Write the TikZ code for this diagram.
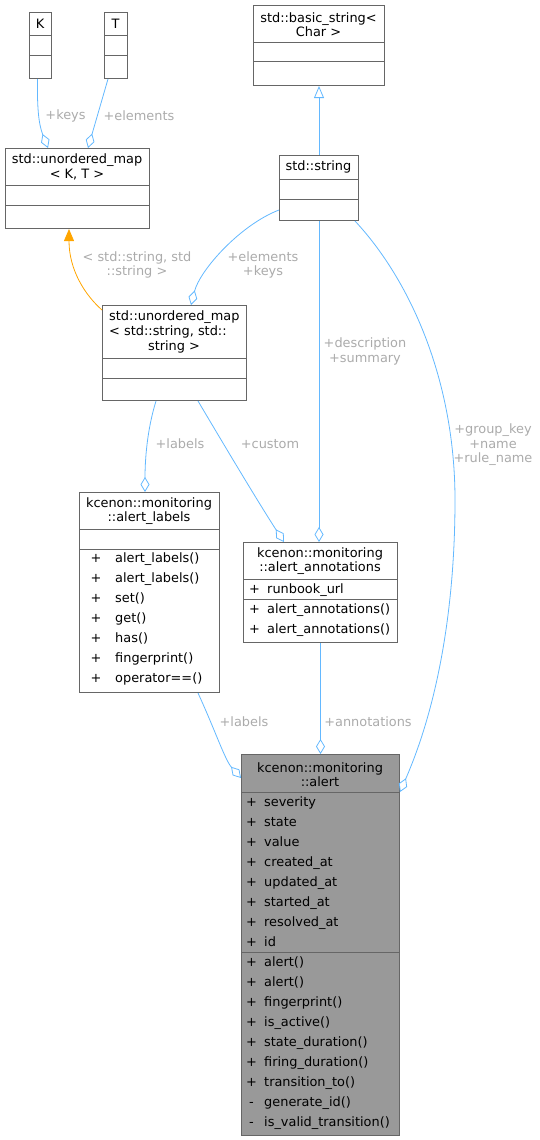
\documentclass[tikz,border=0pt]{standalone}
\usepackage{fontspec}
\setmainfont{DejaVu Sans}
\usetikzlibrary{arrows.meta}
\definecolor{edgeblue}{HTML}{63B8FF}
\definecolor{labelgray}{HTML}{ABABAB}
\definecolor{boxgray}{HTML}{666666}
\definecolor{alertfill}{HTML}{999999}
\definecolor{tmplorange}{HTML}{FFA500}
\begin{document}
\begin{tikzpicture}
    [
        x=1pt, y=-1pt,
        font=\fontsize{12.9}{14.5}\selectfont,
        classbox/.style={rectangle, draw=boxgray, fill=white, line width=1pt, anchor=north west, inner sep=0pt},
        divider/.style={draw=boxgray, line width=1pt},
        title/.style={align=center, inner sep=0pt},
        vis/.style={anchor=base, inner sep=0pt},
        member/.style={anchor=base west, inner sep=0pt},
        edgelabel/.style={text=labelgray, align=center, inner sep=0pt},
        uses/.style={draw=edgeblue, line width=0.8pt, -{Diamond[open, length=15pt, width=9pt]}},
        inherits/.style={draw=edgeblue, line width=0.8pt, -{Triangle[open, length=12pt, width=10pt]}},
        tmpl/.style={draw=tmplorange, line width=0.8pt, -{Triangle[length=12pt, width=10pt, fill=tmplorange]}},
    ]
    \useasboundingbox (0,0) rectangle (540,1140);

    % template parameters
    \node (k) at (29,12) [classbox, minimum width=22pt, minimum height=66pt] {};
    \node at (40,24) [title] {K};
    \draw [divider] (29,36) -- (51,36) (29,56) -- (51,56);
    \node (t) at (104,12) [classbox, minimum width=23pt, minimum height=66pt] {};
    \node at (115.5,24) [title] {T};
    \draw [divider] (104,36) -- (127,36) (104,56) -- (127,56);

    % std classes
    \node (bstr) at (253,5) [classbox, minimum width=131pt, minimum height=80pt] {};
    \node at (318.5,24.5) [title] {std::basic\_string<\\Char >};
    \draw [divider] (253,43) -- (384,43) (253,62) -- (384,62);
    \node (mapkt) at (5,148) [classbox, minimum width=144pt, minimum height=80pt] {};
    \node at (77,167) [title] {std::unordered\_map\\< K, T >};
    \draw [divider] (5,185) -- (149,185) (5,205) -- (149,205);
    \node (str) at (279,155) [classbox, minimum width=79pt, minimum height=65pt] {};
    \node at (318.5,167) [title] {std::string};
    \draw [divider] (279,179) -- (358,179) (279,199) -- (358,199);
    \node (mapss) at (102,305) [classbox, minimum width=144pt, minimum height=95pt] {};
    \node at (109,324.5) [title, align=left, anchor=west] {std::unordered\_map\\< std::string, std::};
    \node at (174,347) [title] {string >};
    \draw [divider] (102,358) -- (246,358) (102,378) -- (246,378);

    % kcenon::monitoring classes
    \node (lbl) at (79,492) [classbox, minimum width=140pt, minimum height=200pt] {};
    \node at (149,511) [title] {kcenon::monitoring\\::alert\_labels};
    \draw [divider] (79,529) -- (219,529) (79,549) -- (219,549);
    \foreach \m [count=\i] in {alert\_labels(), alert\_labels(), set(), get(), has(), fingerprint(), operator==()}
    {
        \node at (96,542.7+20*\i) [vis] {+};
        \node at (115,542.7+20*\i) [member] {\m};
    }
    \node (ann) at (243,542) [classbox, minimum width=154pt, minimum height=100pt] {};
    \node at (320,561) [title] {kcenon::monitoring\\::alert\_annotations};
    \draw [divider] (243,579) -- (397,579) (243,599) -- (397,599);
    \foreach \m/\yy in {runbook\_url/593.3, alert\_annotations()/613.3, alert\_annotations()/633.3}
    {
        \node at (254.5,\yy) [vis] {+};
        \node at (267,\yy) [member] {\m};
    }
    \node (alert) at (241,754) [classbox, fill=alertfill, minimum width=158pt, minimum height=381pt] {};
    \node at (320,774.5) [title] {kcenon::monitoring\\::alert};
    \draw [divider] (241,792) -- (399,792) (241,952) -- (399,952);
    \foreach \v/\m [count=\i] in {+/severity, +/state, +/value, +/created\_at, +/updated\_at, +/started\_at, +/resolved\_at, +/id,
        +/alert(), +/alert(), +/fingerprint(), +/is\_active(), +/state\_duration(), +/firing\_duration(), +/transition\_to(),
        -/generate\_id(), -/is\_valid\_transition()}
    {
        \node at (251.5,786.5+20*\i) [vis] {\v};
        \node at (264,786.5+20*\i) [member] {\m};
    }

    % connectors
    \draw [uses] ([xshift=-3pt]k.south) .. controls (37,110) and (39,125) .. ([xshift=43pt]mapkt.north west);
    \draw [uses] ([xshift=-8pt]t.south) -- ([xshift=83pt]mapkt.north west);
    \draw [inherits] (str.north) -- (bstr.south);
    \draw [tmpl] ([yshift=-5pt]mapss.north west) .. controls (85,295) and (69,270) .. ([xshift=64pt]mapkt.south west);
    \draw [uses] ([yshift=11pt]str.south west) .. controls (240,225) and (200,270) .. ([xshift=89pt]mapss.north west);
    \draw [uses] (str.south) -- ([xshift=76pt]ann.north west);
    \draw [uses] ([xshift=-4pt]str.south east) .. controls (410,280) and (455,380) .. (455,500)
        .. controls (455,600) and (440,700) .. ([yshift=-38pt]alert.north east);
    \draw [uses] ([xshift=54pt]mapss.south west) .. controls (147,430) and (145,460) .. ([xshift=66pt]lbl.north west);
    \draw [uses] ([xshift=96pt]mapss.south west) .. controls (230,455) and (260,505) .. ([xshift=41pt]ann.north west);
    \draw [uses] ([xshift=119pt]lbl.south west) .. controls (215,730) and (225,760) .. ([yshift=-24pt]alert.north west);
    \draw [uses] (ann.south) -- (alert.north);

    % connector labels
    \node (lkeys) at (65.5,116) [edgelabel] {+keys};
    \node (lelem) at (139,116) [edgelabel] {+elements};
    \node (ltmpl) at (137,265) [edgelabel] {< std::string, std\\::string >};
    \node (lelkeys) at (263,265) [edgelabel] {+elements\\+keys};
    \node (ldesc) at (365,351.5) [edgelabel] {+description\\+summary};
    \node (lgroup) at (493,445) [edgelabel] {+group\_key\\+name\\+rule\_name};
    \node (llabels) at (180,444) [edgelabel] {+labels};
    \node (lcustom) at (270,444) [edgelabel] {+custom};
    \node (llabels2) at (244,722) [edgelabel] {+labels};
    \node (lannot) at (368,722) [edgelabel] {+annotations};
\end{tikzpicture}
\end{document}
